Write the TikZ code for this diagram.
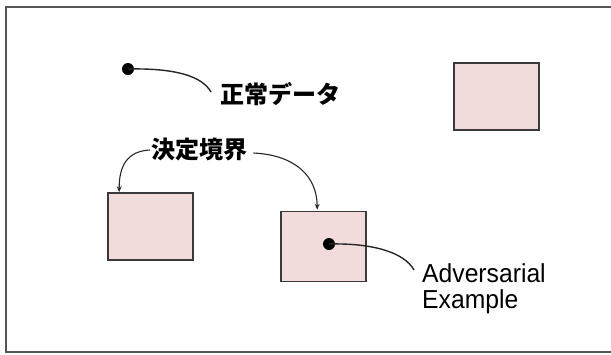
\documentclass[tikz,border=0pt]{standalone}
\usepackage{fontspec}
\usepackage{graphicx}
\setmainfont{Liberation Sans}
\newfontfamily\jp{Noto Sans CJK JP}
\usetikzlibrary{arrows.meta,calc}
\definecolor{boxfill}{HTML}{F2DCDB}
\definecolor{boxline}{HTML}{3A3A3A}
\definecolor{framecol}{HTML}{555555}
\tikzset{
  region/.style={draw=boxline, line width=1.6pt, fill=boxfill, minimum width=85pt, minimum height=67pt, inner sep=0pt},
  datadot/.style={circle, fill=black, minimum size=12pt, inner sep=0pt},
  jplabel/.style={font=\jp\bfseries\fontsize{24}{26}\selectfont, inner sep=0pt, anchor=west},
  enlabel/.style={font=\fontsize{26}{26}\selectfont, inner sep=0pt, anchor=north west, align=left},
  leader/.style={draw=black!85, line width=1.4pt},
  pointer/.style={draw=black!85, line width=1.1pt, -{Stealth[length=6pt,width=5pt]}}
}
\begin{document}
\begin{tikzpicture}[x=1pt,y=-1pt]
\useasboundingbox (0,0) rectangle (611,354);
\draw[framecol, line width=1.5pt] (6,7) rectangle (614,352);
% boxes
\node[region] (b1) at (496.5,96.5) {};
\node[region] (b2) at (150.5,226.5) {};
\node[region, minimum height=70pt] (b3) at (323.5,246.5) {};
% dots
\node[datadot] (d1) at (128,69) {};
\node[datadot] (d2) at (329,244) {};
% labels
\node[jplabel] (t1) at (220,94) {正常データ};
\node[jplabel] (t2) at (151,149) {決定境界};
\node[enlabel] (t3) at (422,263) {\scalebox{0.95}[1]{Adversarial}\\\scalebox{0.95}[1]{Example}};
% connectors
\coordinate (e1) at ($(t1.west)+(-9,-2)$);
\draw[leader] (d1.center) .. controls (175,68) and (202,76) .. (e1);
\coordinate (e3) at ($(t3.north west)+(-8,7)$);
\draw[leader] (d2.center) .. controls (372,243) and (404,252) .. (e3);
\coordinate (a2) at ($(b2.north west)+(12,0)$);
\coordinate (a3) at ($(b3.north west)+(37,-1)$);
\draw[pointer] ($(t2.west)+(-1,1)$) .. controls (128,151) and (119,165) .. (a2);
\draw[pointer] ($(t2.east)+(6,4)$) .. controls (295,155) and (317,176) .. (a3);
\end{tikzpicture}
\end{document}
